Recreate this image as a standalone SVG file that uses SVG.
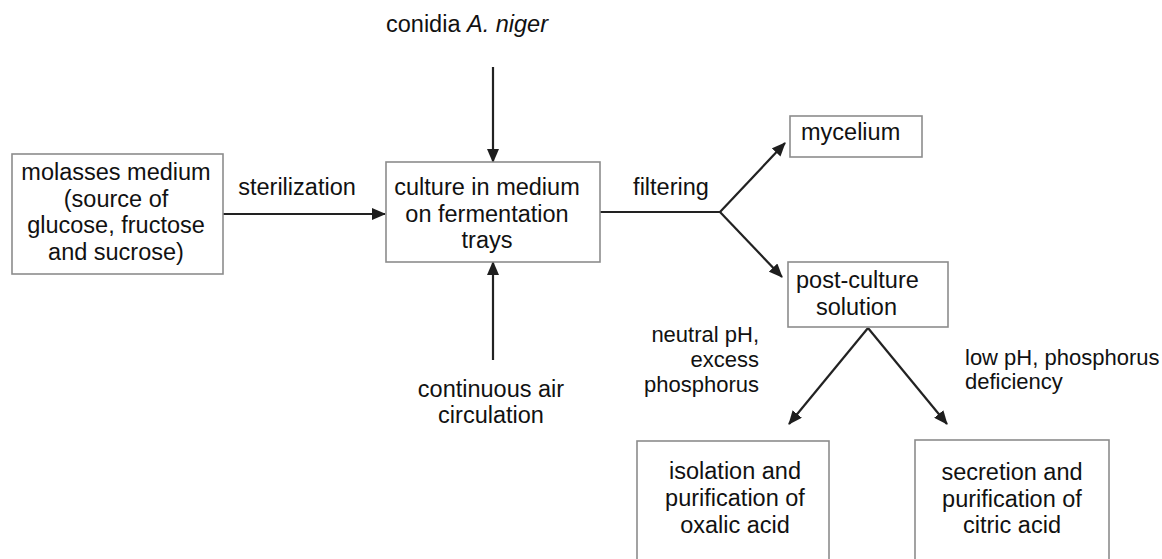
<svg xmlns="http://www.w3.org/2000/svg" width="1162" height="559" viewBox="0 0 1162 559">
<defs>
<marker id="ah" viewBox="0 0 14 12" refX="13" refY="6" markerWidth="14" markerHeight="12" markerUnits="userSpaceOnUse" orient="auto">
<path d="M0,0 L14,6 L0,12 Z" fill="#1e1e1e"/>
</marker>
<style>
.box{fill:#fff;stroke:#8c8c8c;stroke-width:1.6}
.t{font-family:"Liberation Sans",Arial,sans-serif;font-size:23.5px;fill:#111}
.s{font-family:"Liberation Sans",Arial,sans-serif;font-size:22px;fill:#111}
.c{text-anchor:middle}
.e{text-anchor:end}
.ln{fill:none;stroke:#222;stroke-width:2.2}
</style>
</defs>
<rect width="1162" height="559" fill="#fff"/>
<g id="connectors">
<line class="ln" x1="223" y1="214" x2="385" y2="214" marker-end="url(#ah)"/>
<line class="ln" x1="493" y1="67" x2="493" y2="162" marker-end="url(#ah)"/>
<line class="ln" x1="493" y1="360" x2="493" y2="262" marker-end="url(#ah)"/>
<polyline class="ln" points="600,212 720,212"/>
<line class="ln" x1="720" y1="212" x2="785" y2="143" marker-end="url(#ah)"/>
<line class="ln" x1="720" y1="212" x2="782" y2="277" marker-end="url(#ah)"/>
<line class="ln" x1="868" y1="328" x2="789" y2="424" marker-end="url(#ah)"/>
<line class="ln" x1="868" y1="328" x2="947" y2="424" marker-end="url(#ah)"/>
<text class="t c" x="297" y="195">sterilization</text>
<text class="t c" x="671" y="195">filtering</text>
<text class="t" x="386" y="32">conidia <tspan font-style="italic">A. niger</tspan></text>
<text class="t c" x="491" y="397">continuous air</text>
<text class="t c" x="491" y="423">circulation</text>
<text class="s e" x="759" y="342">neutral pH,</text>
<text class="s e" x="759" y="367">excess</text>
<text class="s e" x="759" y="392">phosphorus</text>
<text class="s" x="965" y="365">low pH, phosphorus</text>
<text class="s" x="965" y="389">deficiency</text>
</g>
<g id="molasses">
<rect class="box" x="12" y="154" width="211" height="120"/>
<text class="t c" x="116" y="180">molasses medium</text>
<text class="t c" x="116" y="207">(source of</text>
<text class="t c" x="116" y="233">glucose, fructose</text>
<text class="t c" x="116" y="260">and sucrose)</text>
</g>
<g id="culture">
<rect class="box" x="386" y="162" width="214" height="100"/>
<text class="t c" x="487" y="195">culture in medium</text>
<text class="t c" x="487" y="222">on fermentation</text>
<text class="t c" x="487" y="248">trays</text>
</g>
<g id="mycelium">
<rect class="box" x="790" y="116" width="132" height="41"/>
<text class="t" x="801" y="140">mycelium</text>
</g>
<g id="postculture">
<rect class="box" x="788" y="262" width="160" height="65"/>
<text class="t" x="796" y="288">post-culture</text>
<text class="t" x="816" y="315">solution</text>
</g>
<g id="oxalic">
<rect class="box" x="637" y="441" width="192" height="125"/>
<text class="t c" x="735" y="479">isolation and</text>
<text class="t c" x="735" y="506">purification of</text>
<text class="t c" x="735" y="533">oxalic acid</text>
</g>
<g id="citric">
<rect class="box" x="915" y="440" width="194" height="126"/>
<text class="t c" x="1012" y="480">secretion and</text>
<text class="t c" x="1012" y="507">purification of</text>
<text class="t c" x="1012" y="533">citric acid</text>
</g>
</svg>
